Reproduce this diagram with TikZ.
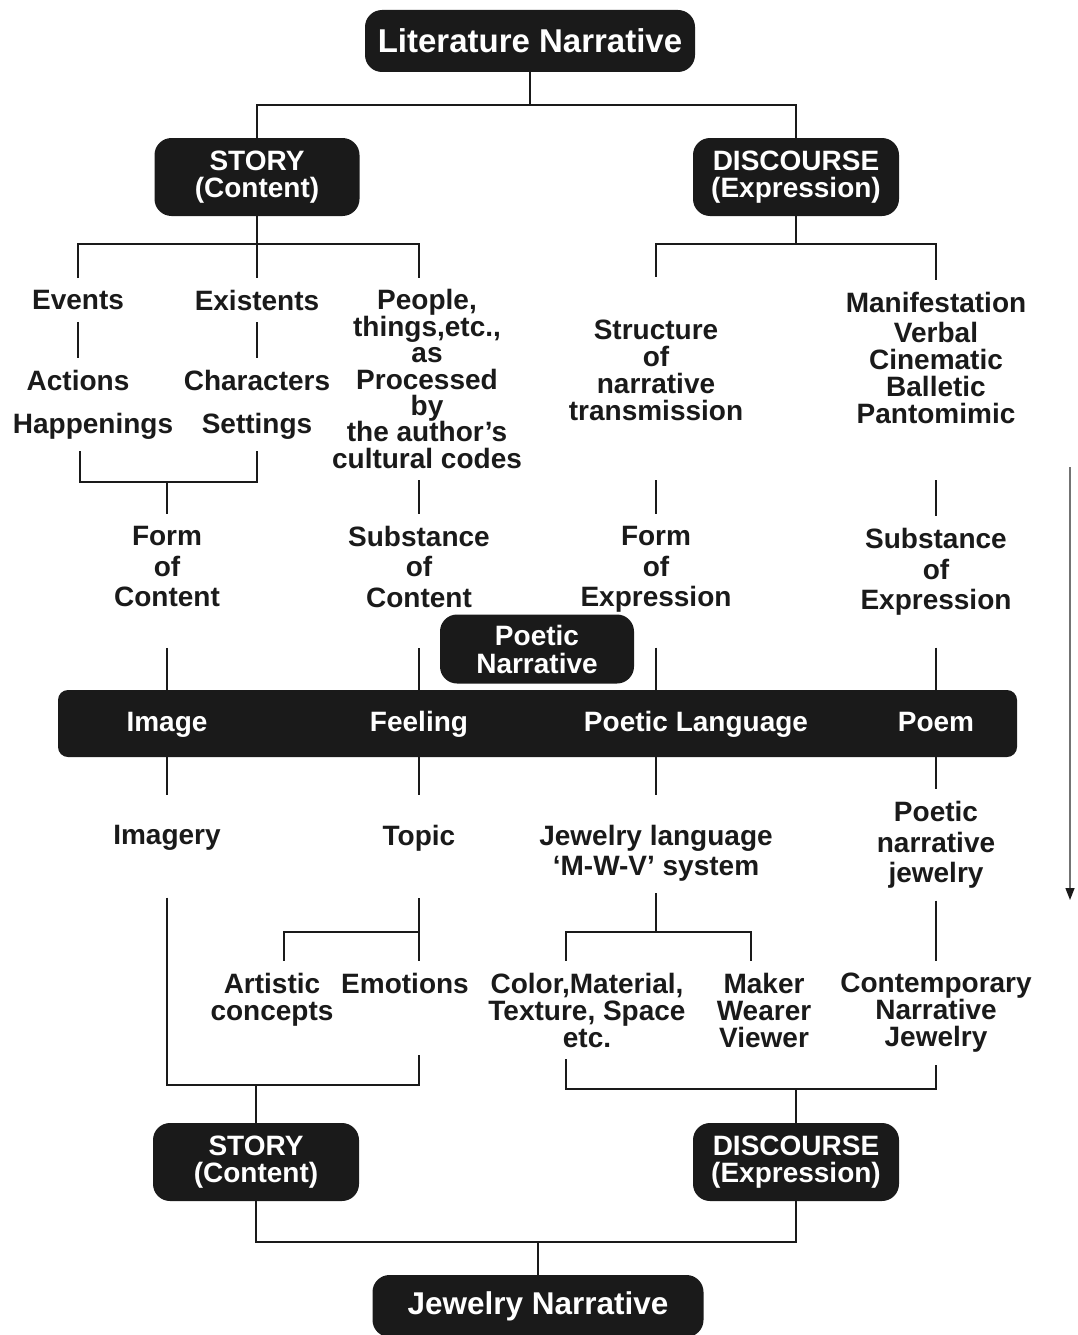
\documentclass[tikz,border=0pt]{standalone}
\usepackage{fontspec}
\setmainfont{Liberation Sans}
\usetikzlibrary{backgrounds,arrows.meta}
\definecolor{ink}{HTML}{1A1A1A}
\tikzset{
  blk/.style={fill=ink, text=white, rounded corners=17pt, inner sep=0pt,
    align=center, font=\fontsize{28}{27}\selectfont\bfseries},
  txt/.style={text=ink, inner sep=0pt, outer xsep=0pt, outer ysep=12pt,
    align=center, font=\fontsize{28}{27}\selectfont\bfseries},
  airy/.style={font=\fontsize{28}{30.5}\selectfont\bfseries},
  wire/.style={color=ink, line width=2.8pt},
}
\begin{document}
\begin{tikzpicture}[x=1pt,y=-1pt]
  \useasboundingbox (0,0) rectangle (1078,1335);
  % literature side
  \node[blk, minimum width=330pt, minimum height=62pt, font=\fontsize{33}{33}\selectfont\bfseries] (litnar) at (530,41) {Literature Narrative};
  \node[blk, minimum width=205pt, minimum height=78pt] (story) at (257,177) {STORY\\(Content)};
  \node[blk, minimum width=206pt, minimum height=78pt] (discourse) at (796,177) {DISCOURSE\\(Expression)};
  \coordinate (ftop) at (530,105);
  \coordinate (fk1) at (257,244);
  \coordinate (fk2) at (796,244);
  % story: events, existents
  \node[txt] (events) at (78,300) {Events};
  \node[txt] (existents) at (257,300) {Existents};
  \node[txt, font=\fontsize{28}{26.4}\selectfont\bfseries] (people) at (427,379) {People,\\things,etc.,\\as\\Processed\\by\\the author’s\\cultural codes};
  \node[txt] (actions) at (78,380) {Actions};
  \node[txt] (characters) at (257,380) {Characters};
  \node[txt] (happenings) at (93,426) {Happenings};
  \node[txt] (settings) at (257,426) {Settings};
  \coordinate (bk1) at (167,482);
  % discourse
  \node[txt] (structure) at (656,370) {Structure\\of\\narrative\\transmission};
  \node[txt] (manifest) at (936,357.5) {Manifestation\\[3pt]Verbal\\Cinematic\\Balletic\\Pantomimic};
  % form / substance
  \node[txt, airy] (formc) at (167,566.5) {Form\\of\\Content};
  \node[txt, airy] (substc) at (419,566.5) {Substance\\of\\Content};
  \node[txt, airy] (forme) at (656,569.5) {Form\\of\\Expression};
  \node[txt, airy] (subste) at (936,572) {Substance\\of\\Expression};
  % poetic narrative bar
  \node[blk, minimum width=194pt, minimum height=69pt, font=\fontsize{28}{28}\selectfont\bfseries] (poetnar) at (537,649) {Poetic\\Narrative};
  \node[blk, rounded corners=10pt, minimum width=959pt, minimum height=67pt] (bar) at (537.5,723.5) {};
  \foreach \x/\t/\n in {167/Image/image, 419/Feeling/feeling, 696/Poetic Language/plang, 936/Poem/poem}
    \node[txt, text=white, anchor=base] (\n) at (\x,731) {\t};
  % jewelry side
  \node[txt] (imagery) at (167,838) {Imagery};
  \node[txt] (topic) at (419,838) {Topic};
  \node[txt, airy] (jewelry) at (656,853) {Jewelry language\\‘M-W-V’ system};
  \node[txt, airy] (pnj) at (936,845) {Poetic\\narrative\\jewelry};
  \node[txt] (artistic) at (272,999.5) {Artistic\\concepts};
  \node[txt] (emotions) at (405,983) {Emotions};
  \node[txt] (color) at (587,1010) {Color,Material,\\Texture, Space\\etc.};
  \node[txt] (maker) at (764,1010) {Maker\\Wearer\\Viewer};
  \node[txt] (contemp) at (936,1013) {Contemporary\\Narrative\\Jewelry};
  \coordinate (fk5) at (419,932);
  \coordinate (fk6) at (656,932);
  \coordinate (bk3) at (256,1085);
  \coordinate (bk4) at (796,1089);
  \node[blk, minimum width=206pt, minimum height=78pt] (story2) at (256,1162) {STORY\\(Content)};
  \node[blk, minimum width=206pt, minimum height=78pt] (discourse2) at (796,1162) {DISCOURSE\\(Expression)};
  \coordinate (fk7) at (538,1242);
  \node[blk, minimum width=331pt, minimum height=62pt, font=\fontsize{31.5}{31.5}\selectfont\bfseries] (jewnar) at (538,1306) {Jewelry Narrative};
  % reading direction
  \coordinate (flowtop) at (1070,467);
  \coordinate (flowend) at (1070,900);
  \draw[black!55, line width=1.4pt, -{Triangle[width=9pt,length=12pt,color=ink]}] (flowtop) -- (flowend);
  \begin{scope}[on background layer]
  \begin{scope}[wire]
    % top fork
    \draw (litnar) -- (ftop);
    \draw (story) |- (ftop) -| (discourse);
    % story fork
    \draw (story) -- (existents);
    \draw (events) |- (fk1) -| (substc |- people.north);
    \draw (events) -- (actions);
    \draw (existents) -- (characters);
    \draw ([xshift=-13pt]happenings.south) |- (bk1) -| (settings);
    \draw (bk1) -- (formc);
    \draw (substc |- people.south) -- (substc);
    % discourse fork
    \draw (discourse) -- (fk2);
    \draw[shorten >=31pt] (fk2) -| (structure);
    \draw (fk2) -| (manifest);
    \draw[shorten <=48pt] (structure) -- (forme);
    \draw[shorten <=45pt] (manifest) -- (subste);
    % down behind the bar
    \draw[shorten <=29pt, shorten >=18pt] (formc) -- (imagery);
    \draw[shorten <=29pt, shorten >=18pt] (substc) -- (topic);
    \draw[shorten <=23pt, shorten >=18pt] (forme) -- (jewelry);
    \draw[shorten <=20pt] (subste) -- (pnj);
    % lower left
    \draw[shorten <=35pt] (topic) -- (topic |- emotions.north);
    \draw (fk5) -| ([xshift=12pt]artistic.north);
    \draw[shorten <=35pt, shorten >=50pt] (imagery) |- (bk3) -| (topic |- emotions.south);
    \draw (bk3) -- (story2);
    % lower right
    \draw (jewelry) -- (fk6);
    \draw ([xshift=-21pt]color.north) |- (fk6) -| ([xshift=-13pt]maker.north);
    \draw (pnj) -- (contemp);
    \draw ([xshift=-21pt]color.south) |- (bk4) -| (contemp);
    \draw (bk4) -- (discourse2);
    % bottom
    \draw (story2) |- (fk7) -| (discourse2);
    \draw (fk7) -- (jewnar);
  \end{scope}
  \end{scope}
\end{tikzpicture}
\end{document}
